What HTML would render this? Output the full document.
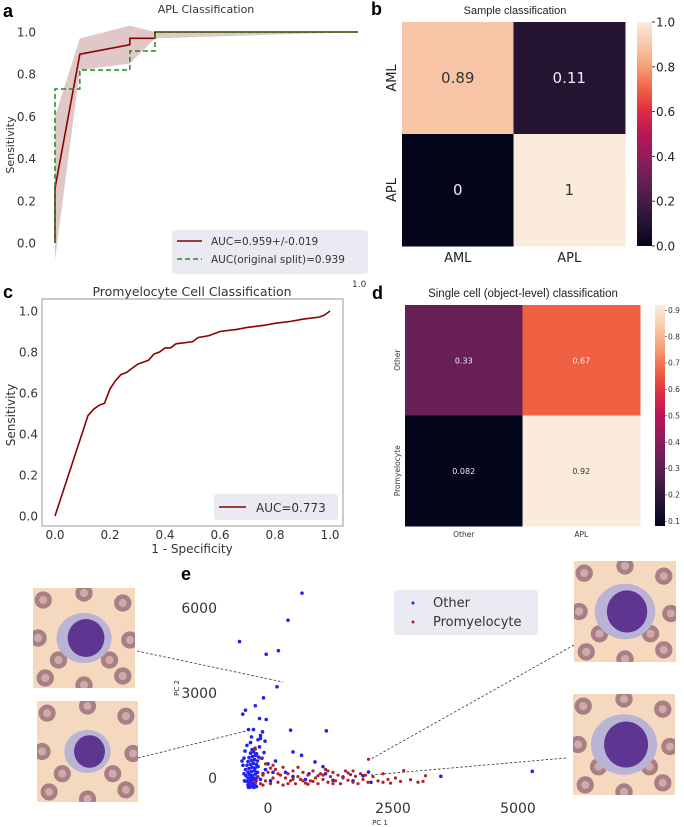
<!DOCTYPE html>
<html><head><meta charset="utf-8"><style>
html,body{margin:0;padding:0;background:#fff;}
svg{display:block;font-family:"DejaVu Sans","Liberation Sans",sans-serif;}
</style></head><body>
<svg id="fig" width="684" height="827" viewBox="0 0 684 827" xmlns="http://www.w3.org/2000/svg">
<defs>
<linearGradient id="rocket" x1="0" y1="1" x2="0" y2="0">
<stop offset="0" stop-color="#03051a"/><stop offset="0.1" stop-color="#221331"/><stop offset="0.2" stop-color="#451c47"/><stop offset="0.3" stop-color="#6a1f56"/><stop offset="0.4" stop-color="#921c5b"/><stop offset="0.5" stop-color="#b91657"/><stop offset="0.6" stop-color="#dd2c45"/><stop offset="0.7" stop-color="#f06043"/><stop offset="0.8" stop-color="#f59e76"/><stop offset="0.9" stop-color="#f7c9aa"/><stop offset="1" stop-color="#faebdd"/>
</linearGradient>
</defs>
<g id="pa"></g>
<g id="pb"></g>
<g id="pc"></g>
<g id="pd"></g>
<g id="pe"></g>
</svg>
<script>
// ---- Panel a data ----
const aRedX=[0,0,0.082,0.247,0.247,0.33,0.33,1];
const aRedY=[0,0.26,0.895,0.94,0.97,0.97,1.0,1.0];
const aGreenX=[0,0,0.082,0.082,0.247,0.247,0.33,0.33,1];
const aGreenY=[0,0.73,0.73,0.82,0.82,0.91,0.91,1.0,1.0];
const aBandX=[0,0.082,0.247,0.33,1];
const aBandHi=[0.6,0.97,1.03,1.0,1.0];
const aBandLo=[-0.08,0.82,0.85,0.97,1.0];
const aTicks=[0,0.2,0.4,0.6,0.8,1.0];
// ---- Panel b data ----
const bRows=["AML","APL"];
const bCols=["AML","APL"];
const bVals=[[0.89,0.11],[0,1]];
const bLabels=[["0.89","0.11"],["0","1"]];
const bTicks=[0,0.2,0.4,0.6,0.8,1.0];
// ---- Panel c data ----
const cX=[0,0.12,0.14,0.16,0.18,0.2,0.22,0.24,0.26,0.28,0.3,0.32,0.34,0.36,0.38,0.4,0.42,0.44,0.5,0.52,0.56,0.6,0.66,0.7,0.76,0.8,0.86,0.9,0.96,0.98,1.0];
const cY=[0,0.49,0.52,0.54,0.55,0.62,0.66,0.69,0.70,0.72,0.74,0.75,0.76,0.79,0.80,0.82,0.82,0.84,0.85,0.87,0.88,0.90,0.91,0.92,0.93,0.94,0.95,0.96,0.97,0.98,1.0];
const cTicks=[0,0.2,0.4,0.6,0.8,1.0];
// ---- Panel d data ----
const dRows=["Other","Promyelocyte"];
const dCols=["Other","APL"];
const dVals=[[0.33,0.67],[0.082,0.92]];
const dLabels=[["0.33","0.67"],["0.082","0.92"]];
const dTicks=[0.1,0.2,0.3,0.4,0.5,0.6,0.7,0.8,0.9];
// ---- Panel e data ----
const otherX=[-400,-350,-300,-380,-320,-260,-420,-360,-300,-240,-400,-340,-280,-220,-440,-370,-310,-250,-400,-330,-270,-210,-450,-380,-320,-260,-200,-420,-350,-290,-230,-400,-330,-270,-210,-380,-310,-250,-190,-350,-290,-230,-320,-260,-420,-500,-520,-480,-470,-150,-100,-50,0,50,100,150,-120,-80,-170,-60,-200,-350,-460,-480,-150,680,400,-570,-36,208,180,-90,-450,-505,-253,-170,-36,-390,-290,452,1167,-110,-330,-150,500,670,940,1100,2010,3457,5285,350,500,750,820,1150,1300,1500,1700,2060,1900,-300,-360,-280,-340,-310,-390,-230];
const otherY=[-250,-280,-260,-200,-150,-200,-120,-80,-50,-100,0,30,-10,20,80,120,90,140,200,230,260,200,300,330,380,350,400,450,480,520,470,580,620,650,600,720,760,800,740,880,920,860,1000,1050,1150,450,600,150,-100,-50,150,300,500,-100,200,600,700,900,1100,1300,1350,1250,950,700,1500,6525,5570,4815,4366,4496,3220,2830,2395,2254,2550,2100,2065,1711,1711,1687,1664,1630,1450,1400,920,800,566,400,212,60,236,200,50,-50,150,150,-80,40,-100,-150,80,-300,-320,-330,-310,-290,-330,-300];
const promoX=[-250,-200,-150,-100,-50,0,50,100,150,200,250,300,350,400,450,500,550,600,650,700,750,800,850,900,950,1000,1050,1100,1150,1200,1250,1300,1350,1400,1450,1500,1550,1600,1650,1700,1750,1800,1850,1900,1950,2000,2100,2200,2300,2400,2450,2550,2650,2715,2850,3000,3100,3150,2010,-253,-50,100,300,-150,600,1200,1700,2300,700,900,1000,1300,200,400,500,800,1100,1600,-100,50];
const promoY=[-150,50,-200,100,-100,200,-200,0,300,-150,100,-250,0,150,-100,250,-200,50,-50,200,-180,100,-100,250,0,-200,150,-50,300,-150,50,200,-100,100,-200,0,250,-80,120,-150,60,-200,150,-50,100,-150,50,-100,150,-50,-180,0,-120,260,-60,-150,-120,80,660,1015,500,450,380,700,380,250,250,-150,-100,-120,80,-200,150,-200,-50,-220,100,180,-250,350];
const eXTicks=[0,2500,5000];
const eYTicks=[0,3000,6000];

const NS="http://www.w3.org/2000/svg";
function mk(parent,tag,attrs,text){const e=document.createElementNS(NS,tag);for(const k in attrs)e.setAttribute(k,attrs[k]);if(text!==undefined)e.textContent=text;parent.appendChild(e);return e;}
function rocket(t){const s=["#03051a","#221331","#451c47","#6a1f56","#921c5b","#b91657","#dd2c45","#f06043","#f59e76","#f7c9aa","#faebdd"];t=Math.max(0,Math.min(1,t));const i=Math.min(9,Math.floor(t*10));const f=t*10-i;const a=s[i],b=s[i+1];const p=(h,k)=>parseInt(h.substr(1+2*k,2),16);let r=[0,1,2].map(k=>Math.round(p(a,k)+(p(b,k)-p(a,k))*f));return "rgb("+r.join(",")+")";}

// ===== Panel a =====
const pa=document.getElementById('pa');
const ax=x=>55+x*303, ay=y=>243-y*211;
let t;
t=mk(pa,'text',{x:3,y:17,'font-size':18,'font-weight':'bold','font-family':'Liberation Sans,sans-serif',fill:'#000'},'a');

t=mk(pa,'text',{x:206,y:13,'font-size':11,'text-anchor':'middle',fill:'#333'},'APL Classification');

aTicks.forEach(v=>{const e=mk(pa,'text',{x:36,y:ay(v)+4.5,'font-size':12,'text-anchor':'end',fill:'#333'},v.toFixed(1));
});
t=mk(pa,'text',{x:0,y:0,'font-size':11,'text-anchor':'middle',fill:'#333',transform:'translate(14,145) rotate(-90)'},'Sensitivity');

let band='';aBandX.forEach((x,i)=>band+=(i?'L':'M')+ax(x)+','+ay(aBandHi[i]));
for(let i=aBandX.length-1;i>=0;i--)band+='L'+ax(aBandX[i])+','+ay(aBandLo[i]);
t=mk(pa,'path',{d:band+'Z',fill:'#c89a9a','fill-opacity':0.55});

let pr='';aRedX.forEach((x,i)=>pr+=(i?'L':'M')+ax(x)+','+ay(aRedY[i]));
t=mk(pa,'path',{d:pr,fill:'none',stroke:'#8b0000','stroke-width':1.6});

let pg='';aGreenX.forEach((x,i)=>pg+=(i?'L':'M')+ax(x)+','+ay(aGreenY[i]));
t=mk(pa,'path',{d:pg,fill:'none',stroke:'#1e8a1e','stroke-width':1.5,'stroke-dasharray':'5,3'});

const lga=mk(pa,'g',{});
mk(lga,'rect',{x:172,y:230,width:196,height:44,rx:3,fill:'#eaeaf2'});
mk(lga,'line',{x1:177,y1:241,x2:202,y2:241,stroke:'#8b0000','stroke-width':1.6});
mk(lga,'line',{x1:177,y1:259,x2:202,y2:259,stroke:'#1e8a1e','stroke-width':1.5,'stroke-dasharray':'5,3'});
mk(lga,'text',{x:211,y:245,'font-size':10.5,fill:'#333'},'AUC=0.959+/-0.019');
mk(lga,'text',{x:211,y:263,'font-size':10.5,fill:'#333'},'AUC(original split)=0.939');

// ===== Panel b =====
const pb=document.getElementById('pb');
t=mk(pb,'text',{x:371,y:15,'font-size':18,'font-weight':'bold','font-family':'Liberation Sans,sans-serif'},'b');

t=mk(pb,'text',{x:515,y:14,'font-size':11,'text-anchor':'middle',fill:'#222','font-family':'Liberation Sans,sans-serif'},'Sample classification');

const bx0=402,by0=22,bw=111.5,bh=112;
bVals.forEach((row,r)=>row.forEach((v,c)=>{
 const e=mk(pb,'rect',{x:bx0+c*bw,y:by0+r*bh,width:bw+0.5,height:bh+0.5,fill:rocket(v)});
 
 const tx=mk(pb,'text',{x:bx0+c*bw+bw/2,y:by0+r*bh+bh/2+5,'font-size':15,'text-anchor':'middle',fill:v>0.6?'#333':'#eee'},bLabels[r][c]);
 
}));
bRows.forEach((n,i)=>{const e=mk(pb,'text',{x:0,y:0,'font-size':13,'text-anchor':'middle',fill:'#222',transform:'translate(396,'+(by0+i*bh+bh/2)+') rotate(-90)'},n);
});
bCols.forEach((n,i)=>{const e=mk(pb,'text',{x:bx0+i*bw+bw/2,y:262,'font-size':13,'text-anchor':'middle',fill:'#222'},n);
});
t=mk(pb,'rect',{x:637,y:22,width:15,height:224,fill:'url(#rocket)'});

bTicks.forEach(v=>{const y=246-v*224;mk(pb,'line',{x1:652,y1:y,x2:655,y2:y,stroke:'#333'});
const e=mk(pb,'text',{x:656,y:y+4.5,'font-size':12,fill:'#222'},v.toFixed(1));
});

// ===== Panel c =====
const pc=document.getElementById('pc');
const cx=x=>55+x*275, cy=y=>516-y*205;
t=mk(pc,'text',{x:3,y:298,'font-size':18,'font-weight':'bold','font-family':'Liberation Sans,sans-serif'},'c');

t=mk(pc,'text',{x:192,y:296,'font-size':12.5,'text-anchor':'middle',fill:'#333'},'Promyelocyte Cell Classification');

t=mk(pc,'text',{x:352,y:287,'font-size':9,fill:'#333'},'1.0');

t=mk(pc,'rect',{x:42,y:299,width:301,height:227,fill:'#fff',stroke:'#999','stroke-width':1});

cTicks.forEach(v=>{
 const e=mk(pc,'text',{x:38,y:cy(v)+4.5,'font-size':12,'text-anchor':'end',fill:'#333'},v.toFixed(1));
 
 const f=mk(pc,'text',{x:cx(v),y:539,'font-size':12,'text-anchor':'middle',fill:'#333'},v.toFixed(1));
 });
t=mk(pc,'text',{x:192,y:553,'font-size':12,'text-anchor':'middle',fill:'#333'},'1 - Specificity');

t=mk(pc,'text',{x:0,y:0,'font-size':12,'text-anchor':'middle',fill:'#333',transform:'translate(15,415) rotate(-90)'},'Sensitivity');

let pcp='';cX.forEach((x,i)=>pcp+=(i?'L':'M')+cx(x)+','+cy(cY[i]));
t=mk(pc,'path',{d:pcp,fill:'none',stroke:'#8b0000','stroke-width':1.6});

const lgc=mk(pc,'g',{});
mk(lgc,'rect',{x:214,y:494,width:124,height:26,rx:3,fill:'#eaeaf2'});
mk(lgc,'line',{x1:219,y1:507,x2:246,y2:507,stroke:'#8b0000','stroke-width':1.6});
mk(lgc,'text',{x:256,y:512,'font-size':12,fill:'#333'},'AUC=0.773');

// ===== Panel d =====
const pd=document.getElementById('pd');
t=mk(pd,'text',{x:372,y:299,'font-size':18,'font-weight':'bold','font-family':'Liberation Sans,sans-serif'},'d');

t=mk(pd,'text',{x:523,y:297,'font-size':11.5,'text-anchor':'middle',fill:'#222','font-family':'Liberation Sans,sans-serif'},'Single cell (object-level) classification');

const dmin=0.082,dmax=0.92,dx0=405,dy0=305,dw=117.5,dh=110.5;
dVals.forEach((row,r)=>row.forEach((v,c)=>{
 const e=mk(pd,'rect',{x:dx0+c*dw,y:dy0+r*dh,width:dw+0.5,height:dh+0.5,fill:rocket((v-dmin)/(dmax-dmin))});
 
 const tx=mk(pd,'text',{x:dx0+c*dw+dw/2,y:dy0+r*dh+dh/2+3,'font-size':8,'text-anchor':'middle',fill:v>0.8?'#333':'#eee'},dLabels[r][c]);
 
}));
dRows.forEach((n,i)=>{const e=mk(pd,'text',{x:0,y:0,'font-size':7.5,'text-anchor':'middle',fill:'#333',transform:'translate(400,'+(dy0+i*dh+dh/2)+') rotate(-90)'},n);
});
dCols.forEach((n,i)=>{const e=mk(pd,'text',{x:dx0+i*dw+dw/2,y:537,'font-size':7.5,'text-anchor':'middle',fill:'#333'},n);
});
t=mk(pd,'rect',{x:655,y:305,width:10,height:221,fill:'url(#rocket)'});

dTicks.forEach(v=>{const y=526-(v-dmin)/(dmax-dmin)*221;mk(pd,'line',{x1:665,y1:y,x2:667,y2:y,stroke:'#333','stroke-width':0.6});
const e=mk(pd,'text',{x:668,y:y+2.7,'font-size':7.5,fill:'#333'},v.toFixed(1));
});

// ===== Panel e =====
const pe=document.getElementById('pe');
const ex=x=>268+x*0.05, ey=y=>778-y*0.02833;
t=mk(pe,'text',{x:181,y:580,'font-size':18,'font-weight':'bold','font-family':'Liberation Sans,sans-serif'},'e');

function cellImg(x,y,w,h,name,nuc){
 const g=mk(pe,'g',{});
 mk(g,'rect',{x:x,y:y,width:w,height:h,fill:'#f4d9bf'});
 const cp='clip'+name;const cpe=mk(g,'clipPath',{id:cp});mk(cpe,'rect',{x:x,y:y,width:w,height:h});
 const gg=mk(g,'g',{'clip-path':'url(#'+cp+')'});
 [[0.1,0.12],[0.5,0.05],[0.88,0.15],[0.05,0.5],[0.95,0.52],[0.12,0.9],[0.5,0.97],[0.88,0.88],[0.75,0.72],[0.25,0.72]].forEach(p=>{
  mk(gg,'circle',{cx:x+p[0]*w,cy:y+p[1]*h,r:w*0.085,fill:'#a97f86'});
  mk(gg,'circle',{cx:x+p[0]*w,cy:y+p[1]*h,r:w*0.04,fill:'#cfaaa9'});});
 mk(gg,'ellipse',{cx:x+w*0.5,cy:y+h*0.5,rx:w*0.27*nuc,ry:h*0.25*nuc,fill:'#b9b3d6'});
 mk(gg,'ellipse',{cx:x+w*0.52,cy:y+h*0.5,rx:w*0.18*nuc,ry:h*0.19*nuc,fill:'#5e3590'});
}
cellImg(33,588,102,100,'cell-image-top-left',1);
cellImg(37,701,101,101,'cell-image-bottom-left',0.85);
cellImg(574,561,102,101,'cell-image-top-right',1.1);
cellImg(573,694,102,101,'cell-image-bottom-right',1.2);
[[137,651,283,682],[138,758,254,729],[574,645,371,759],[566,758,371,775]].forEach(l=>{
 const e=mk(pe,'line',{x1:l[0],y1:l[1],x2:l[2],y2:l[3],stroke:'#333','stroke-width':0.8,'stroke-dasharray':'2.5,2'});
 });
eYTicks.forEach(v=>{const e=mk(pe,'text',{x:217,y:ey(v)+5,'font-size':14,'text-anchor':'end',fill:'#333'},String(v));
});
eXTicks.forEach(v=>{const e=mk(pe,'text',{x:ex(v),y:813,'font-size':14,'text-anchor':'middle',fill:'#333'},String(v));
});
t=mk(pe,'text',{x:380,y:825,'font-size':7,'text-anchor':'middle',fill:'#333'},'PC 1');

t=mk(pe,'text',{x:0,y:0,'font-size':7,'text-anchor':'middle',fill:'#333',transform:'translate(179,688) rotate(-90)'},'PC 2');

otherX.forEach((x,i)=>{const e=mk(pe,'circle',{cx:ex(x),cy:ey(otherY[i]),r:1.8,fill:'#2222ee'});
});
promoX.forEach((x,i)=>{const e=mk(pe,'circle',{cx:ex(x),cy:ey(promoY[i]),r:1.6,fill:'#b22222'});
});
const lge=mk(pe,'g',{});
mk(lge,'rect',{x:394,y:590,width:144,height:45,rx:3,fill:'#eaeaf2'});
mk(lge,'circle',{cx:413,cy:603,r:1.5,fill:'#2222ee'});
mk(lge,'circle',{cx:413,cy:622,r:1.5,fill:'#b22222'});
mk(lge,'text',{x:433,y:607,'font-size':13,fill:'#333'},'Other');
mk(lge,'text',{x:433,y:626,'font-size':13,fill:'#333'},'Promyelocyte');
</script>
</body></html>
